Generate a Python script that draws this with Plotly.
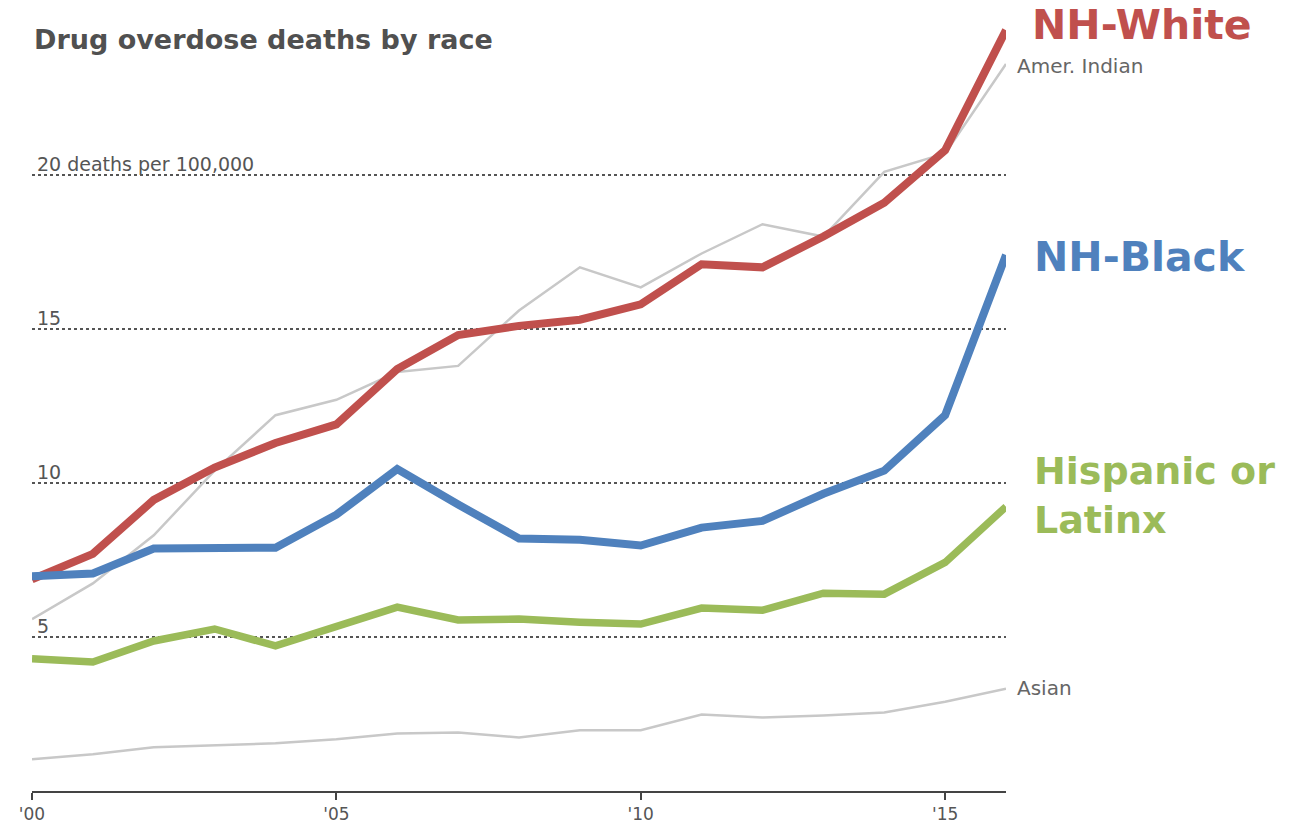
import plotly.graph_objects as go

years = list(range(2000, 2017))

nh_white = [6.87, 7.7, 9.45, 10.5, 11.3, 11.9, 13.7, 14.8, 15.1, 15.3, 15.8, 17.1, 17.0, 18.0, 19.1, 20.8, 24.7]
nh_black = [6.97, 7.06, 7.87, 7.87, 7.9, 8.97, 10.45, 9.3, 8.2, 8.16, 7.97, 8.55, 8.77, 9.65, 10.4, 12.2, 17.4]
hispanic = [4.29, 4.19, 4.87, 5.26, 4.71, 5.35, 5.97, 5.55, 5.58, 5.48, 5.42, 5.94, 5.87, 6.42, 6.39, 7.42, 9.23]
amer_indian = [5.58, 6.74, 8.3, 10.4, 12.2, 12.7, 13.6, 13.8, 15.6, 17.0, 16.35, 17.45, 18.4, 18.0, 20.1, 20.7, 23.6]
asian = [1.03, 1.19, 1.42, 1.48, 1.55, 1.68, 1.87, 1.9, 1.74, 1.97, 1.97, 2.48, 2.39, 2.45, 2.55, 2.9, 3.32]

x_tick_vals = [2000, 2005, 2010, 2015]
x_tick_text = ["'00", "'05", "'10", "'15"]
grid_vals = [5, 10, 15, 20]
grid_labels = ["5", "10", "15", "20 deaths per 100,000"]

RED = "#c0504d"
BLUE = "#4f81bd"
GREEN = "#9bbb59"
GREY = "#c8c8c8"

fig = go.Figure()
fig.add_trace(go.Scatter(x=years, y=asian, mode="lines", line=dict(color=GREY, width=2.5)))
fig.add_trace(go.Scatter(x=years, y=amer_indian, mode="lines", line=dict(color=GREY, width=2.5)))
fig.add_trace(go.Scatter(x=years, y=hispanic, mode="lines", line=dict(color=GREEN, width=7.5)))
fig.add_trace(go.Scatter(x=years, y=nh_white, mode="lines", line=dict(color=RED, width=8)))
fig.add_trace(go.Scatter(x=years, y=nh_black, mode="lines", line=dict(color=BLUE, width=8)))

annotations = []
for v, lab in zip(grid_vals, grid_labels):
    annotations.append(dict(x=0.003, y=v + 0.35, xref="paper", yref="y", text=lab, showarrow=False,
                            xanchor="left", yanchor="middle",
                            font=dict(family="DejaVu Sans", size=19, color="#555555")))


def side_label(x, y, text, size, color):
    return dict(x=x, y=y, xref="paper", yref="y", text=text, showarrow=False,
                xanchor="left", yanchor="middle", align="left",
                font=dict(family="DejaVu Sans", size=size, color=color))


annotations += [
    dict(x=0.0, y=24.39, xref="paper", yref="y", text="<b>Drug overdose deaths by race</b>", showarrow=False,
         xanchor="left", yanchor="middle", font=dict(family="DejaVu Sans", size=27, color="#505050")),
    side_label(1.0246, 24.87, "<b>NH-White</b>", 41, RED),
    side_label(1.0092, 23.55, "Amer. Indian", 20, "#666666"),
    side_label(1.0267, 17.35, "<b>NH-Black</b>", 41, BLUE),
    side_label(1.0267, 9.6, "<b>Hispanic or</b><br><b>Latinx</b>", 38, GREEN),
    side_label(1.0092, 3.35, "Asian", 20, "#666666"),
]

fig.update_layout(
    width=1306, height=836,
    margin=dict(l=32, r=300, t=20, b=40),
    paper_bgcolor="white", plot_bgcolor="white",
    showlegend=False,
    annotations=annotations,
    xaxis=dict(range=[2000, 2016], tickmode="array", tickvals=x_tick_vals, ticktext=x_tick_text,
               showgrid=False, zeroline=False, showline=True, linecolor="#444444", linewidth=2,
               ticks="outside", ticklen=7, tickwidth=2, tickcolor="#444444",
               tickfont=dict(family="DejaVu Sans", size=17, color="#555555")),
    yaxis=dict(range=[0, 25.03], tickmode="array", tickvals=grid_vals, showticklabels=False,
               showgrid=True, gridcolor="#555555", gridwidth=1.5, griddash="dot",
               zeroline=False, showline=False, ticks=""),
)

fig.write_html("out.html")
